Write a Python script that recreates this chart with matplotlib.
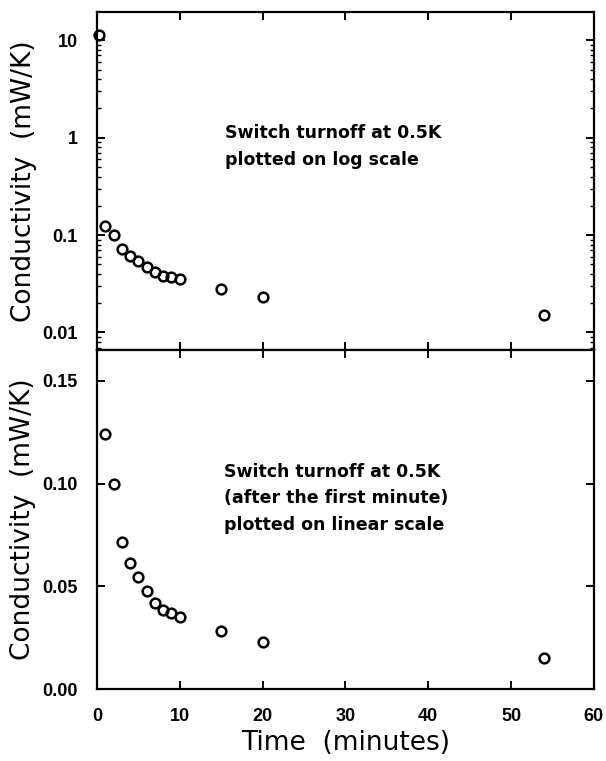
"""Switch turnoff conductivity vs time, log and linear panels"""
import matplotlib
matplotlib.use("Agg")
import matplotlib.pyplot as plt
from matplotlib.ticker import FixedLocator, LogLocator, NullFormatter, FuncFormatter

# data
time_min = [1, 2, 3, 4, 5, 6, 7, 8, 9, 10, 15, 20, 54]
cond = [0.124, 0.100, 0.0714, 0.0613, 0.0543, 0.0475, 0.0421,
        0.0384, 0.0372, 0.0351, 0.0283, 0.0231, 0.015]
# first point (t ~ 0) only shown on the log panel
t0 = [0.2]
c0 = [11.5]

log_ticks = [0.01, 0.1, 1, 10]
log_labels = ["0.01", "0.1", "1", "10"]
lin_ticks = [0.00, 0.05, 0.10, 0.15]
x_ticks = [0, 10, 20, 30, 40, 50, 60]

plt.rcParams['font.family'] = ['DejaVu Sans']

fig = plt.figure(figsize=(6.06, 7.61), dpi=100)
ax_log = fig.add_axes([0.160, 0.540, 0.820, 0.444])
ax_lin = fig.add_axes([0.160, 0.0946, 0.820, 0.4454])

mk = dict(linestyle='none', marker='o', markersize=7, markerfacecolor='none',
          markeredgecolor='black', markeredgewidth=1.8, clip_on=False)

# log panel
ax_log.plot(t0 + time_min, c0 + cond, **mk)
ax_log.set_yscale('log')
ax_log.set_ylim(0.0066, 19.5)
ax_log.set_xlim(0, 60)
ax_log.yaxis.set_major_locator(FixedLocator(log_ticks))
ax_log.yaxis.set_major_formatter(FuncFormatter(lambda v, p: log_labels[log_ticks.index(v)] if v in log_ticks else ""))
ax_log.yaxis.set_minor_locator(LogLocator(base=10, subs=range(2, 10), numticks=20))
ax_log.yaxis.set_minor_formatter(NullFormatter())
ax_log.xaxis.set_major_locator(FixedLocator(x_ticks))
ax_log.tick_params(axis='x', labelbottom=False)
ax_log.text(0.257, 0.602, "Switch turnoff at 0.5K\nplotted on log scale",
            transform=ax_log.transAxes, fontsize=12.5, fontweight='bold',
            va='center', ha='left', linespacing=1.6)

# linear panel
ax_lin.plot(time_min, cond, **mk)
ax_lin.set_ylim(0, 0.165)
ax_lin.set_xlim(0, 60)
ax_lin.yaxis.set_major_locator(FixedLocator(lin_ticks))
ax_lin.yaxis.set_major_formatter(FuncFormatter(lambda v, p: f"{v:.2f}"))
ax_lin.xaxis.set_major_locator(FixedLocator(x_ticks))
ax_lin.set_xlabel("Time  (minutes)", fontsize=19, labelpad=3)
ax_lin.text(0.255, 0.563, "Switch turnoff at 0.5K\n(after the first minute)\nplotted on linear scale",
            transform=ax_lin.transAxes, fontsize=12.5, fontweight='bold',
            va='center', ha='left', linespacing=1.6)

for ax in (ax_log, ax_lin):
    ax.set_ylabel("Conductivity  (mW/K)", fontsize=19, labelpad=4)
    for s in ax.spines.values():
        s.set_linewidth(1.6)
    ax.tick_params(which='major', direction='in', length=6, width=1.4,
                   top=True, right=True, labelsize=13, pad=14)
    ax.tick_params(which='minor', direction='in', length=3, width=1.0,
                   top=False, right=True)
    for lab in ax.get_xticklabels() + ax.get_yticklabels():
        lab.set_fontweight('bold')
        lab.set_family(['Liberation Sans', 'DejaVu Sans'])

fig.savefig("out.png", dpi=100)
